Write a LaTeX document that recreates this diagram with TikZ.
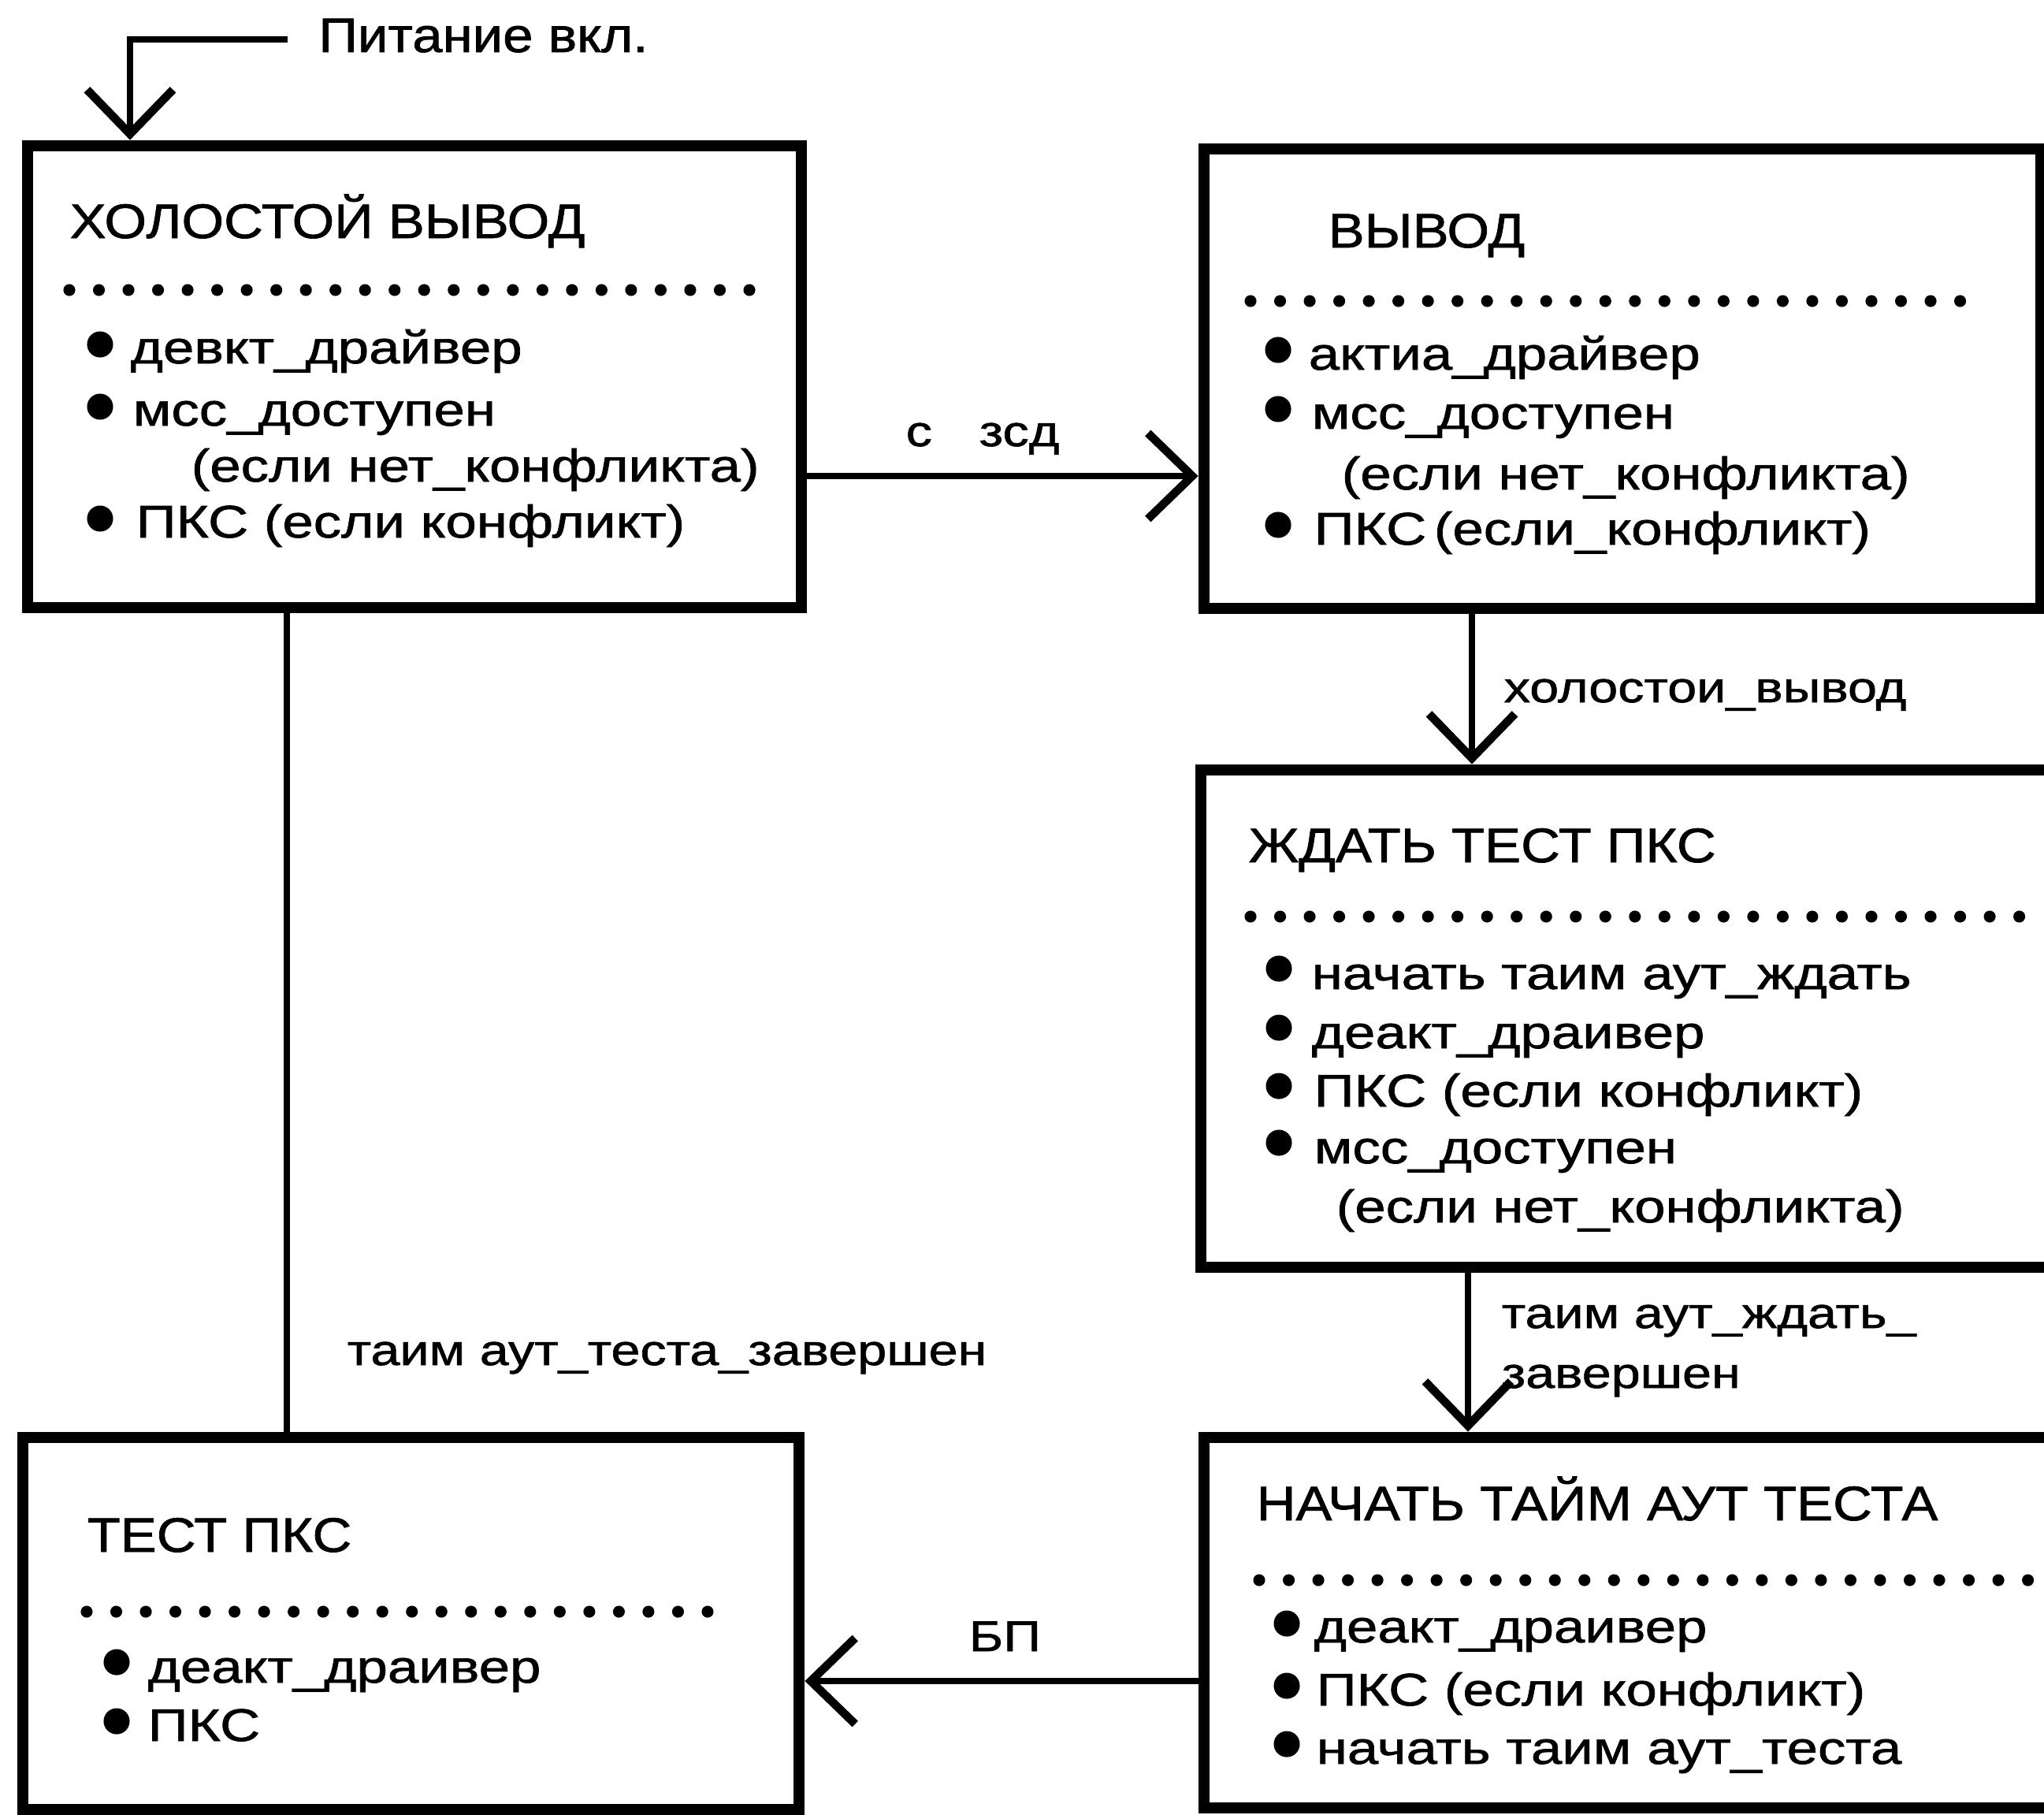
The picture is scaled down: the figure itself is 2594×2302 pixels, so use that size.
\documentclass[tikz,border=0pt]{standalone}
\usepackage{fontspec}
\setmainfont{Liberation Sans}
\newfontfamily\ttlfont{Liberation Sans}[FakeStretch=1.12,FakeBold=1.2]
\newfontfamily\itmfont{Liberation Sans}[FakeStretch=1.22,FakeBold=1.2]
\usetikzlibrary{arrows.meta,fit}
\tikzset{
  barb/.tip={Straight Barb[length=16pt,width=31pt,line width=3pt]},
  box/.style={draw, line width=4.2pt, inner sep=0pt},
  conn/.style={line width=2.3pt},
  ttl/.style={anchor=base west, inner sep=0pt, font=\ttlfont\fontsize{17.5}{21}\selectfont},
  itm/.style={anchor=base west, inner sep=0pt, font=\itmfont\fontsize{16.5}{19}\selectfont},
  lbl/.style={anchor=base west, inner sep=0pt, font=\itmfont\fontsize{15.5}{18}\selectfont},
  dotrow/.style={line width=4.3pt, line cap=round, dash pattern=on 0pt off 10.67pt},
}
\newcommand\blt[2]{\fill (#1,#2) circle[radius=4.7pt];}
\begin{document}
\begin{tikzpicture}[x=0.01cm,y=-0.01cm]
\useasboundingbox (0,0) rectangle (2594,2302);

% boxes
\node[box, fit={(35,185) (1017,771)}] (b1) {};
\node[box, fit={(1528,189) (2590,772)}] (b2) {};
\node[box, fit={(1524,977) (2640,1608)}] (b3) {};
\node[box, fit={(1528,1824) (2640,2294)}] (b4) {};
\node[box, fit={(29,1824) (1014,2296)}] (b5) {};

% box 1
\node[ttl] (t1) at (88,302) {ХОЛОСТОЙ ВЫВОД};
\draw[dotrow] (88,368) -- (952,368);
\node[itm] (i11) at (165,461) {девкт\_драйвер}; \blt{127}{437}
\node[itm] (i12) at (168,540) {мсс\_доступен}; \blt{127}{516}
\node[itm] (i13) at (242,611) {(если нет\_конфликта)};
\node[itm] (i14) at (172,682) {ПКС (если конфликт)}; \blt{127}{658}

% box 2
\node[ttl] (t2) at (1685,314) {ВЫВОД};
\draw[dotrow] (1587,382) -- (2489,382);
\node[itm] (i21) at (1660,469) {актиа\_драйвер}; \blt{1622}{444}
\node[itm] (i22) at (1664,544) {мсс\_доступен}; \blt{1622}{519}
\node[itm] (i23) at (1702,621) {(если нет\_конфликта)};
\node[itm] (i24) at (1667,691) {ПКС\,(если\_конфликт)}; \blt{1622}{666}

% box 3
\node[ttl] (t3) at (1584,1094) {ЖДАТЬ ТЕСТ ПКС};
\draw[dotrow] (1587,1163) -- (2594,1163);
\node[itm] (i31) at (1664,1255) {начать таим аут\_ждать}; \blt{1623}{1229}
\node[itm] (i32) at (1664,1330) {деакт\_драивер}; \blt{1623}{1304}
\node[itm] (i33) at (1667,1404) {ПКС (если конфликт)}; \blt{1623}{1378}
\node[itm] (i34) at (1667,1476) {мсс\_доступен}; \blt{1623}{1450}
\node[itm] (i35) at (1695,1551) {(если нет\_конфликта)};

% box 4
\node[ttl] (t4) at (1594,1929) {НАЧАТЬ ТАЙМ АУТ ТЕСТА};
\draw[dotrow] (1598,2005) -- (2594,2005);
\node[itm] (i41) at (1667,2084) {деакт\_драивер}; \blt{1633}{2060}
\node[itm] (i42) at (1670,2164) {ПКС (если конфликт)}; \blt{1633}{2139}
\node[itm] (i43) at (1670,2238) {начать таим аут\_теста}; \blt{1633}{2213}

% box 5
\node[ttl] (t5) at (110,1969) {ТЕСТ ПКС};
\draw[dotrow] (110,2045) -- (899,2045);
\node[itm] (i51) at (187,2135) {деакт\_драивер}; \blt{148}{2109}
\node[itm] (i52) at (187,2209) {ПКС}; \blt{148}{2184}

% power on
\node[ttl, inner xsep=11pt] (pw) at (365,66) {Питание вкл.};
\coordinate (pc) at (165,50);
\draw[conn, -barb] (pw.west |- pc) -- (pc) -- (pc |- b1.north);

% b1 -> b2
\coordinate (c12) at (1200,604);
\draw[conn, -barb] (b1.east |- c12) -- (b2.west |- c12);
\node[lbl] (l12) at (1149,566) {с\hspace{17pt}зсд};

% b2 -> b3
\coordinate (c23) at (1868,880);
\draw[conn, -barb] (b2.south -| c23) -- (b3.north -| c23);
\node[lbl] (l23) at (1908,891) {холостои\_вывод};

% b3 -> b4
\coordinate (c34) at (1863,1700);
\draw[conn, -barb] (b3.south -| c34) -- (b4.north -| c34);
\node[lbl] (l34a) at (1905,1685) {таим аут\_ждать\_};
\node[lbl] (l34b) at (1905,1761) {завершен};

% b4 -> b5
\coordinate (c45) at (1200,2133);
\draw[conn, -barb] (b4.west |- c45) -- (b5.east |- c45);
\node[lbl] (l45) at (1229,2095) {БП};

% b1 -- b5
\coordinate (c15) at (364,1300);
\draw[conn] (b1.south -| c15) -- (b5.north -| c15);
\node[lbl] (l15) at (440,1732) {таим аут\_теста\_завершен};
\end{tikzpicture}
\end{document}
